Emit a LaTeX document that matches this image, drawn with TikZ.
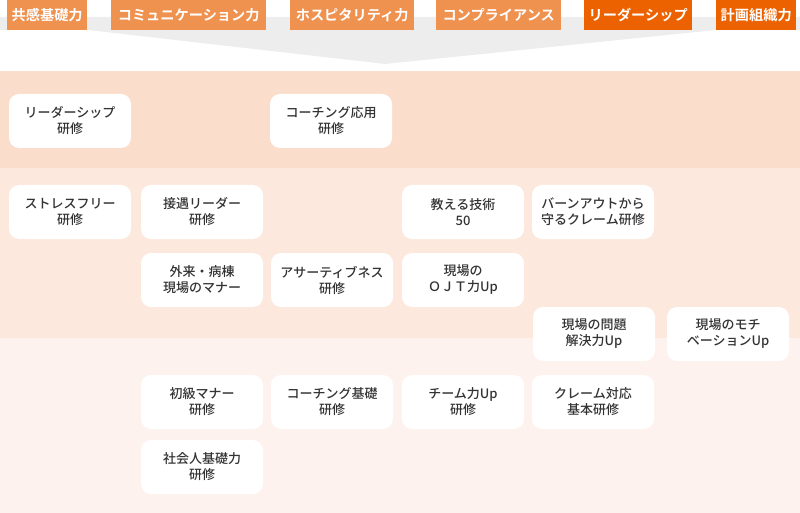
\documentclass[tikz,border=0pt]{standalone}
\usepackage{fontspec}
\setmainfont{Noto Sans CJK JP}[BoldFont={Noto Sans CJK JP Bold}]
\newfontfamily\jpmed{Noto Sans CJK JP Medium}
\definecolor{ink}{HTML}{333333}
\definecolor{skillfill}{HTML}{EF914F}
\definecolor{leadfill}{HTML}{EC6100}
\definecolor{funnel}{HTML}{EDEDED}
\definecolor{bandtop}{HTML}{FADDCA}
\definecolor{bandmid}{HTML}{FCE8DC}
\definecolor{bandlow}{HTML}{FDF2ED}
\newcommand{\boxfont}{\jpmed\fontsize{13}{16}\selectfont}
\newcommand{\tabfont}{\bfseries\fontsize{14.2}{16}\selectfont}
\tikzset{
 x=1pt,y=-1pt,
 every node/.append style={font=\boxfont,text=ink,align=center},
 course/.style={fill=white,rounded corners=10pt,minimum width=122pt,minimum height=54pt,inner sep=0pt},
 skill/.style={fill=skillfill,text=white,font=\tabfont,minimum height=30pt,inner sep=0pt,anchor=north west},
 lead/.style={skill,fill=leadfill},
}

\begin{document}
\begin{tikzpicture}

\useasboundingbox (0,0) rectangle (800,513);
% bands and funnel
\fill[funnel] (0,17) -- (800,17) -- (800,30) -- (716,30) -- (385,64) -- (88,30) -- (0,30) -- cycle;
\fill[bandtop] (0,71) rectangle (800,168);
\fill[bandmid] (0,168) rectangle (800,338);
\fill[bandlow] (0,338) rectangle (800,513);
% skill tabs
\node[skill,minimum width=80pt] (empathy) at (7,0) {共感基礎力};
\node[skill,minimum width=155pt] (communication) at (111,0) {コミュニケーション力};
\node[skill,minimum width=124pt] (hospitality) at (290,0) {ホスピタリティ力};
\node[skill,minimum width=125pt] (compliance) at (436,0) {コンプライアンス};
\node[lead,minimum width=108pt] (leadership) at (584,0) {リーダーシップ};
\node[lead,minimum width=80pt] (planning) at (716,0) {計画組織力};
% courses
\node[course] (leadtrain) at (70,121) {リーダーシップ\\研修};
\node[course] (coachadv) at (331,121) {コーチング応用\\研修};
\node[course] (stressfree) at (70,212) {ストレスフリー\\研修};
\node[course] (hostlead) at (202,212) {接遇リーダー\\研修};
\node[course] (teaching) at (463,212) {教える技術\\50};
\node[course] (burnout) at (593,212) {バーンアウトから\\守るクレーム研修};
\node[course] (manners) at (202,280) {外来・病棟\\現場のマナー};
\node[course] (assertive) at (332,280) {アサーティブネス\\研修};
\node[course] (ojt) at (463,280) {現場の\\ＯＪＴ力Up};
\node[course] (problem) at (594,334) {現場の問題\\解決力Up};
\node[course] (motivation) at (728,334) {現場のモチ\\ベーションUp};
\node[course] (basicmanner) at (202,402) {初級マナー\\研修};
\node[course] (coachbasic) at (332,402) {コーチング基礎\\研修};
\node[course] (teamup) at (463,402) {チーム力Up\\研修};
\node[course] (claim) at (593,402) {クレーム対応\\基本研修};
\node[course] (society) at (202,467) {社会人基礎力\\研修};

\end{tikzpicture}
\end{document}
